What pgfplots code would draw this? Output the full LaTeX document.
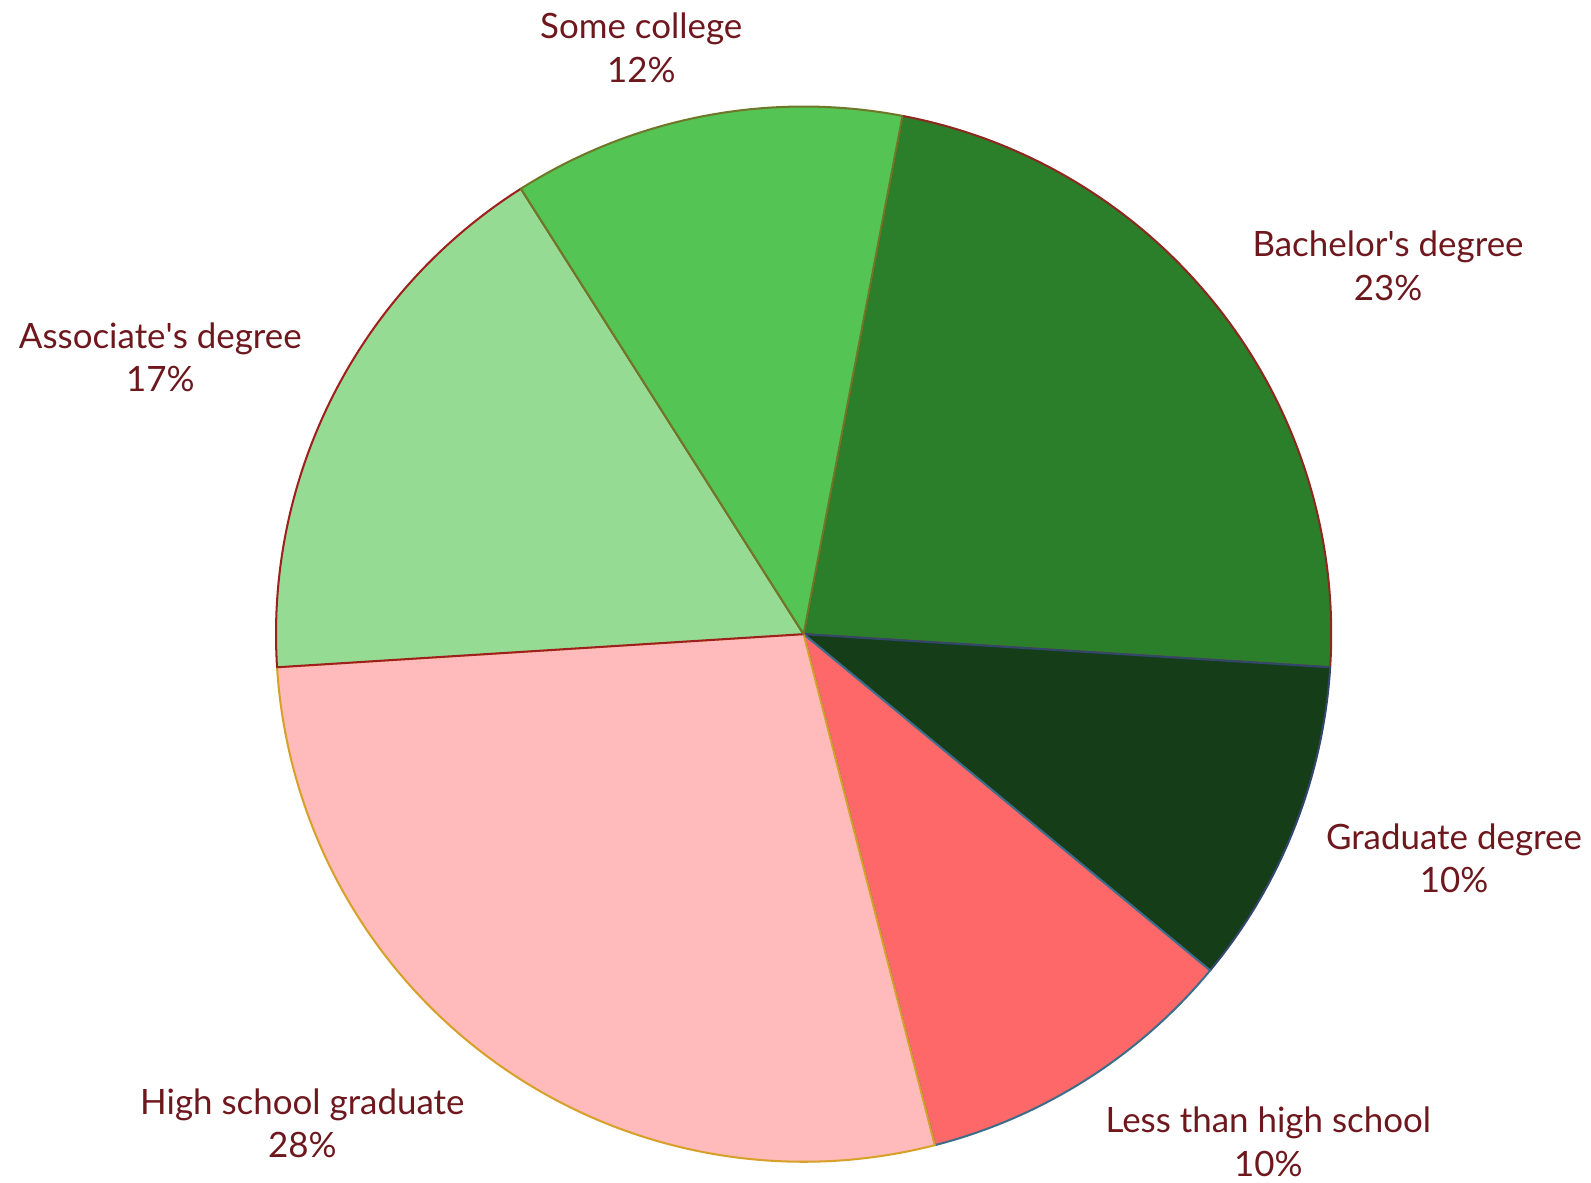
\documentclass[border=0pt]{standalone}
\usepackage{pgfplots}
\usepackage{pgfplotstable}
\pgfplotsset{compat=1.18}
\usepackage{fontspec}
\setmainfont{Lato}
\definecolor{txt}{RGB}{110,24,30}
\definecolor{c0}{RGB}{43,127,43}
\definecolor{c1}{RGB}{21,61,23}
\definecolor{c2}{RGB}{255,104,104}
\definecolor{c3}{RGB}{255,187,187}
\definecolor{c4}{RGB}{150,219,147}
\definecolor{c5}{RGB}{84,196,84}
\definecolor{b0}{RGB}{140,40,30}
\definecolor{b1}{RGB}{50,70,110}
\definecolor{b2}{RGB}{60,110,140}
\definecolor{b3}{RGB}{215,160,40}
\definecolor{b4}{RGB}{160,30,30}
\definecolor{b5}{RGB}{110,120,40}
\pgfplotstableread{
idx value
0 23
1 10
2 10
3 28
4 17
5 12
}\pietable
\begin{document}
\begin{tikzpicture}
\xdef\cum{79.2}
\foreach \i in {0,...,5}{%
  \pgfplotstablegetelem{\i}{value}\of\pietable
  \pgfmathsetmacro\e{\cum-3.6*\pgfplotsretval}%
  \expandafter\xdef\csname sa\i\endcsname{\cum}%
  \expandafter\xdef\csname ea\i\endcsname{\e}%
  \xdef\cum{\e}%
}
\begin{axis}[
  hide axis, scale only axis, clip=false,
  width=392pt, height=291.25pt,
  xmin=0, xmax=1568, ymin=0, ymax=1165,
]
\addplot[draw=none] coordinates {(0,0) (1568,1165)};
\pgfplotsinvokeforeach{0,...,5}{
  \fill[c#1, draw=b#1, line width=0.5pt, line join=round]
    (axis cs:792,540) -- ([shift={(\csname sa#1\endcsname:130pt)}]axis cs:792,540)
    arc[start angle=\csname sa#1\endcsname, end angle=\csname ea#1\endcsname, radius=130pt] -- cycle;
}
\begin{scope}[every node/.style={font=\fontsize{8.6}{10.75}\selectfont, text=txt, align=center}]
\node at (axis cs:632,1118) {Some college\\12\%};
\node at (axis cs:1368,903) {Bachelor\textquotesingle s degree\\23\%};
\node at (axis cs:1433,319) {Graduate degree\\10\%};
\node at (axis cs:1250,40) {Less than high school\\10\%};
\node at (axis cs:298,58) {High school graduate\\28\%};
\node at (axis cs:158,813) {Associate\textquotesingle s degree\\17\%};
\end{scope}
\end{axis}
\pgfresetboundingbox
\path[use as bounding box] (current axis.south west) rectangle (current axis.north east);
\end{tikzpicture}
\end{document}
